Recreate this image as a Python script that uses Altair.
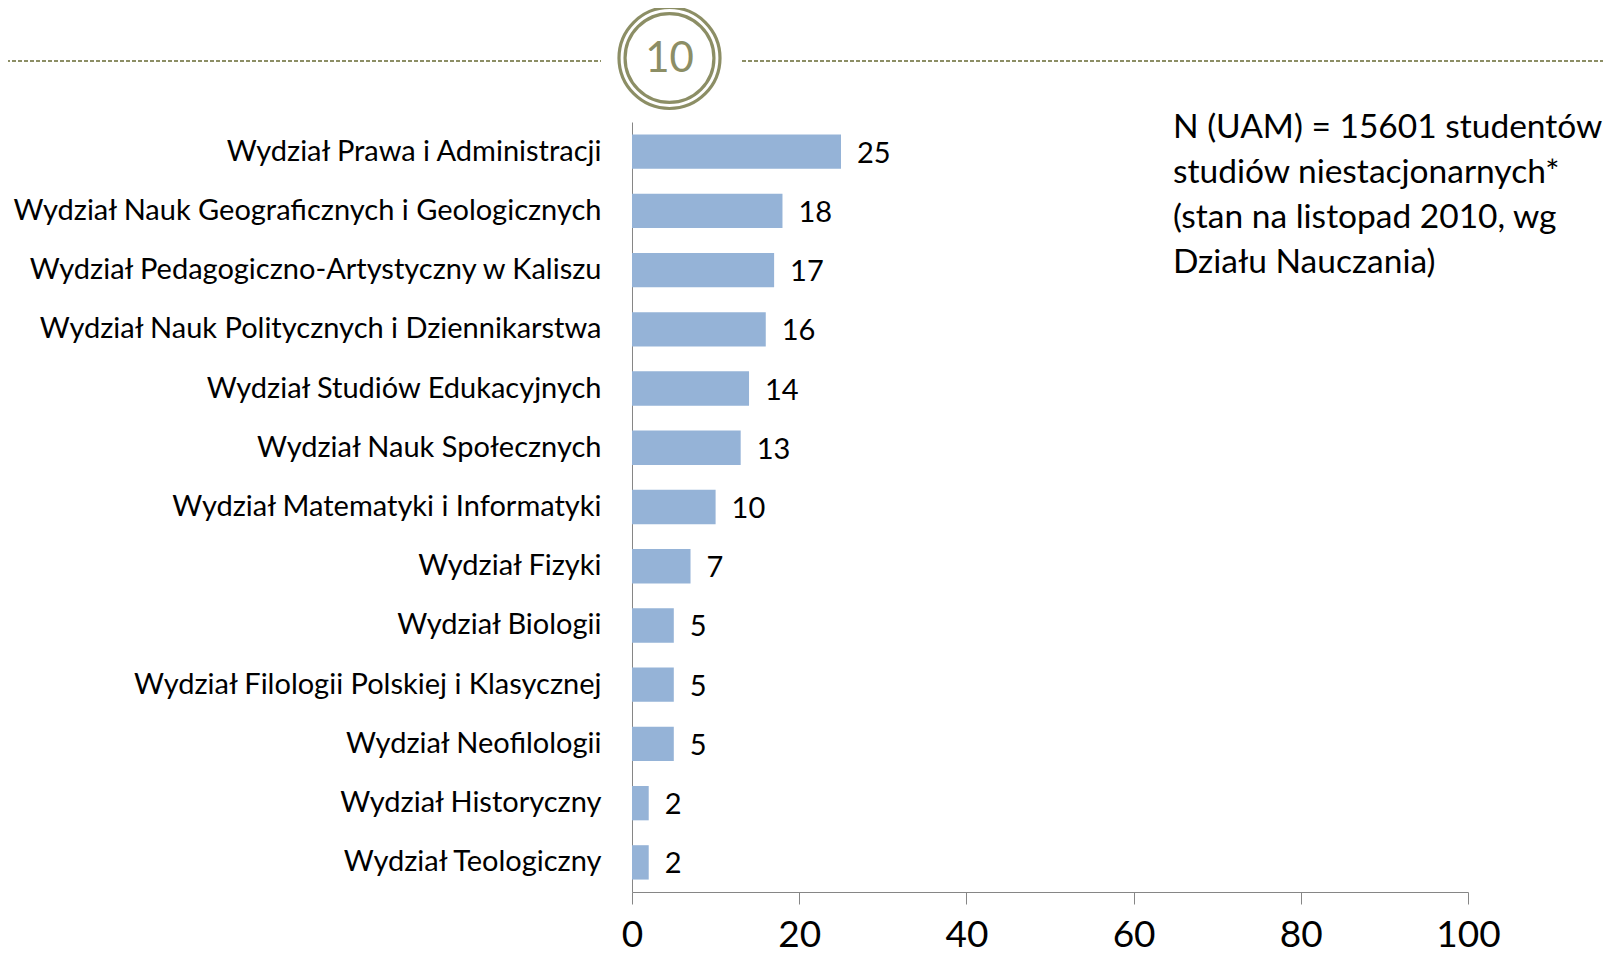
import altair as alt
import pandas as pd

faculties = [
    "Wydział Prawa i Administracji",
    "Wydział Nauk Geograficznych i Geologicznych",
    "Wydział Pedagogiczno-Artystyczny w Kaliszu",
    "Wydział Nauk Politycznych i Dziennikarstwa",
    "Wydział Studiów Edukacyjnych",
    "Wydział Nauk Społecznych",
    "Wydział Matematyki i Informatyki",
    "Wydział Fizyki",
    "Wydział Biologii",
    "Wydział Filologii Polskiej i Klasycznej",
    "Wydział Neofilologii",
    "Wydział Historyczny",
    "Wydział Teologiczny",
]
values = [25, 18, 17, 16, 14, 13, 10, 7, 5, 5, 5, 2, 2]
x_ticks = [0, 20, 40, 60, 80, 100]
note_lines = [
    "N (UAM) = 15601 studentów",
    "studiów niestacjonarnych*",
    "(stan na listopad 2010, wg",
    "Działu Nauczania)",
]
page_number = "10"

FONT = "Lato"
OLIVE = "#8C8E65"

df = pd.DataFrame({"wydzial": faculties, "procent": values})

x_enc = alt.X("procent:Q",
              scale=alt.Scale(domain=[0, 100], nice=False),
              axis=alt.Axis(values=x_ticks, title=None, grid=False,
                            domainColor="#868686", tickColor="#868686",
                            tickSize=12, labelFontSize=37, labelFont=FONT,
                            labelColor="#000000", labelPadding=42,
                            labelBaseline="alphabetic",
                            labelFlush=False))
y_enc = alt.Y("wydzial:N", sort=faculties,
              scale=alt.Scale(paddingInner=0.42, paddingOuter=0.21),
              axis=alt.Axis(title=None, ticks=False, domainColor="#868686",
                            labelFontSize=29, labelFont=FONT,
                            labelColor="#000000", labelPadding=31,
                            labelLimit=800))

base = alt.Chart(df)
bars = base.mark_bar(color="#95B3D7").encode(x=x_enc, y=y_enc)
labels = base.mark_text(align="left", baseline="middle", dx=16, dy=2,
                        fontSize=29, font=FONT, color="#000000").encode(
    x="procent:Q", y=alt.Y("wydzial:N", sort=faculties), text="procent:Q")

one = pd.DataFrame({"t": [page_number]})
dash_left = alt.Chart(one).mark_rule(color=OLIVE, strokeWidth=2,
                                     strokeDash=[4, 2]).encode(
    x=alt.value(-632), x2=alt.value(-31), y=alt.value(-61))
dash_right = alt.Chart(one).mark_rule(color=OLIVE, strokeWidth=2,
                                      strokeDash=[4, 2]).encode(
    x=alt.value(110), x2=alt.value(990), y=alt.value(-61))
ring_outer = alt.Chart(one).mark_point(shape="circle", filled=False,
                                       color=OLIVE, strokeWidth=3.2,
                                       size=10200, opacity=1).encode(
    x=alt.value(37.5), y=alt.value(-64))
ring_inner = alt.Chart(one).mark_point(shape="circle", filled=False,
                                       color=OLIVE, strokeWidth=3.2,
                                       size=7900, opacity=1).encode(
    x=alt.value(37.5), y=alt.value(-64))
num = alt.Chart(one).mark_text(fontSize=42, font=FONT, color=OLIVE,
                               align="center", baseline="middle").encode(
    x=alt.value(37.5), y=alt.value(-63), text="t:N")

note = alt.Chart(pd.DataFrame({"t": ["\n".join(note_lines)]})).mark_text(
    align="left", baseline="top", fontSize=33.5, font=FONT, color="#000000",
    lineBreak="\n", lineHeight=45).encode(
    x=alt.value(541), y=alt.value(-10), text="t:N")

chart = alt.layer(bars, labels, dash_left, dash_right, ring_outer, ring_inner,
                  num, note).properties(
    width=836, height=770,
    autosize=alt.AutoSizeParams(type="none"),
    padding={"left": 624, "top": 114, "right": 135, "bottom": 65},
).configure(background="#ffffff").configure_view(stroke=None)

chart.save("out.html", embed_options={"renderer": "svg", "actions": False})
